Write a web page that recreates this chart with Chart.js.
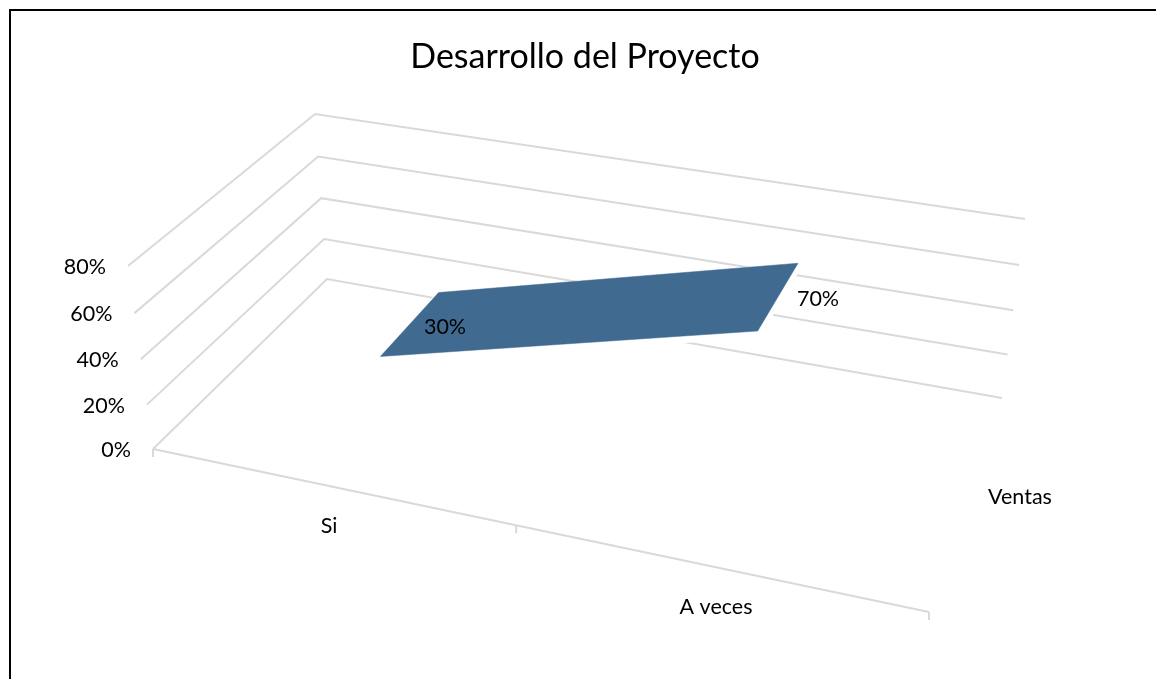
<!DOCTYPE html>
<html><head><meta charset="utf-8">
<style>
html,body{margin:0;padding:0;background:#fff;overflow:hidden}
#frame{position:absolute;left:8.7px;top:8.7px;width:1160px;height:690px;border:2.6px solid #000;box-sizing:border-box}
#wrap{position:absolute;left:14px;top:0;width:1142px;height:679px}
</style>
<script src="https://cdn.jsdelivr.net/npm/chart.js@4"></script>
</head><body>
<div id="frame"></div>
<div id="wrap"><canvas id="c" width="1142" height="679"></canvas></div>
<script>
const titleText = "Desarrollo del Proyecto";
const categories = ["Si", "A veces"];
const seriesName = "Ventas";
const values = [30, 70];
const yTicks = [0, 20, 40, 60, 80];

// 3D box of the wall/floor as seen on screen (depth-projected corners)
const box = {
  FL:[[153,449],[128,266]], FR:[[929,612],[965,414]],
  BL:[[327,279],[315,114]], BR:[[1002,398],[1025,219]]
};
const catUNear = [0.228, 0.714];  // category positions along the floor, near edge
const catUFar = [0.23, 0.72];     // category positions along the floor, far edge
const ribbonW = [0.355, 0.725];   // near and far edge of the ribbon in depth
const floorTicks = [0, 0.468, 1];
const yMax = yTicks[yTicks.length-1];
const lerp=(a,b,t)=>a+(b-a)*t;
function project(u,v,w){
  const r=v/yMax, t=r-0.04*r*(1-r);   // slight foreshortening of the vertical axis
  const corner=k=>[lerp(box[k][0][0],box[k][1][0],t),lerp(box[k][0][1],box[k][1][1],t)];
  const F=corner('FL'),R=corner('FR'),B=corner('BL'),Z=corner('BR');
  const fx=lerp(F[0],R[0],u),fy=lerp(F[1],R[1],u),bx=lerp(B[0],Z[0],u),by=lerp(B[1],Z[1],u);
  return {x:lerp(fx,bx,w),y:lerp(fy,by,w)};
}
const gridColor="#d9d9d9";
const line=(pts,extra)=>Object.assign({showLine:true,pointRadius:0,borderColor:gridColor,borderWidth:2,borderJoinStyle:'miter',fill:false,tension:0,data:pts},extra||{});
const ribbon=(dv)=>[project(catUNear[0],values[0]-dv,ribbonW[0]),project(catUNear[1],values[1]-dv,ribbonW[0]),
                    project(catUFar[1],values[1]-dv,ribbonW[1]),project(catUFar[0],values[0]-dv,ribbonW[1]),
                    project(catUNear[0],values[0]-dv,ribbonW[0])];
// Chart.js paints the first dataset last, so the ribbon comes first
const ds=[
  line(ribbon(0),{label:seriesName,borderColor:'#416a91',borderWidth:0.5,backgroundColor:'#416a91',fill:'shape'}),
  line(ribbon(1.5),{borderColor:'#fff',borderWidth:7,backgroundColor:'#fff',fill:'shape'})
];
yTicks.forEach(v=>{ ds.push(line([project(0,v,0),project(0,v,1),project(1,v,1)])); });
ds.push(line([project(0,0,0),project(1,0,0)]));
floorTicks.forEach(u=>{const p=project(u,0,0);ds.push(line([p,{x:p.x,y:p.y+8}]));});

const fam='Lato, Carlito, sans-serif';
const textPlugin={id:'texts',afterDatasetsDraw(ch){
  const c=ch.ctx,X=ch.scales.x,Y=ch.scales.y;
  const put=(t,x,y,al)=>{c.textAlign=al;c.fillText(t,X.getPixelForValue(x),Y.getPixelForValue(y));};
  c.save();c.fillStyle='#000';c.textBaseline='middle';c.font=`21.5px ${fam}`;
  yTicks.forEach(v=>{const p=project(0,v,0);put(v+'%',p.x-22,p.y+1,'right');});
  put(categories[0],329,526,'center');
  put(categories[1],716,607,'center');
  put(seriesName,1020,497,'center');
  put(values[0]+'%',445,327,'center');
  put(values[1]+'%',818,299,'center');
  c.restore();
}};
const titleH=74;
new Chart(document.getElementById('c'),{
  type:'scatter',
  data:{datasets:ds},
  plugins:[textPlugin],
  options:{
    responsive:false,animation:false,
    layout:{padding:0},
    plugins:{legend:{display:false},tooltip:{enabled:false},
      title:{display:true,text:titleText,color:'#000',font:{family:fam,size:34,weight:'normal',lineHeight:1},padding:{top:40,bottom:0}}},
    scales:{
      x:{type:'linear',display:false,min:14,max:1156},
      y:{type:'linear',display:false,reverse:true,min:titleH,max:679}
    }
  }
});
</script>
</body></html>
